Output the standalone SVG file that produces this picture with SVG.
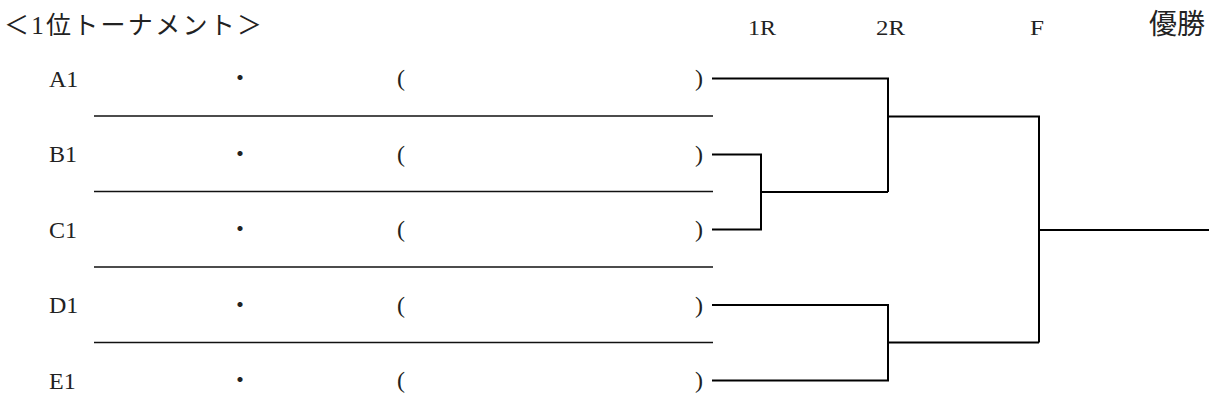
<svg xmlns="http://www.w3.org/2000/svg" width="1231" height="418" viewBox="0 0 1231 418">
<style>
.t{font-family:"Liberation Serif","Noto Sans CJK JP",serif;fill:#222}
.lbl{font-size:24px}
.hd{font-size:20px}
.dot{font-family:"Noto Sans CJK JP",sans-serif;font-size:24px;fill:#222}
.sep{stroke:#111;stroke-width:1.5;fill:none}
.br{stroke:#000;stroke-width:2;fill:none}
</style>
<rect width="1231" height="418" fill="#fff"/>
<g id="title">
<text class="t" x="4" y="34" font-size="25" textLength="258" lengthAdjust="spacing">＜1位トーナメント＞</text>
</g>
<g id="headers">
<text class="t hd" x="748" y="35" textLength="28" lengthAdjust="spacingAndGlyphs">1R</text>
<text class="t hd" x="876" y="35" textLength="29" lengthAdjust="spacingAndGlyphs">2R</text>
<text class="t hd" x="1030" y="35" textLength="14" lengthAdjust="spacingAndGlyphs">F</text>
<text class="t" x="1149" y="34" font-size="28" font-family="Noto Sans CJK JP">優勝</text>
</g>
<g id="rowA">
<text class="t lbl" x="49" y="87">A1</text>
<text class="dot" x="240" y="86" text-anchor="middle">・</text>
<text class="t lbl" x="397" y="86">(</text>
<text class="t lbl" x="695" y="86">)</text>
</g>
<g id="rowB">
<text class="t lbl" x="49" y="162">B1</text>
<text class="dot" x="240" y="162" text-anchor="middle">・</text>
<text class="t lbl" x="397" y="162">(</text>
<text class="t lbl" x="695" y="162">)</text>
</g>
<g id="rowC">
<text class="t lbl" x="49" y="238">C1</text>
<text class="dot" x="240" y="237" text-anchor="middle">・</text>
<text class="t lbl" x="397" y="237">(</text>
<text class="t lbl" x="695" y="237">)</text>
</g>
<g id="rowD">
<text class="t lbl" x="49" y="313">D1</text>
<text class="dot" x="240" y="313" text-anchor="middle">・</text>
<text class="t lbl" x="397" y="313">(</text>
<text class="t lbl" x="695" y="313">)</text>
</g>
<g id="rowE">
<text class="t lbl" x="49" y="389">E1</text>
<text class="dot" x="240" y="388" text-anchor="middle">・</text>
<text class="t lbl" x="397" y="388">(</text>
<text class="t lbl" x="695" y="388">)</text>
</g>
<g id="separators">
<line class="sep" x1="94" y1="116" x2="713" y2="116"/>
<line class="sep" x1="94" y1="191.5" x2="713" y2="191.5"/>
<line class="sep" x1="94" y1="267" x2="713" y2="267"/>
<line class="sep" x1="94" y1="342.5" x2="713" y2="342.5"/>
</g>
<g id="connectors">
<polyline class="br" points="712,78.5 888,78.5 888,192"/>
<polyline class="br" points="712,154.5 761,154.5 761,229.5 712,229.5"/>
<line class="br" x1="761" y1="192" x2="888" y2="192"/>
<polyline class="br" points="888,116.5 1039,116.5 1039,342.5"/>
<polyline class="br" points="712,305 888,305 888,380.5 712,380.5"/>
<line class="br" x1="888" y1="342.5" x2="1039" y2="342.5"/>
<line class="br" x1="1039" y1="230" x2="1209" y2="230"/>
</g>
</svg>
